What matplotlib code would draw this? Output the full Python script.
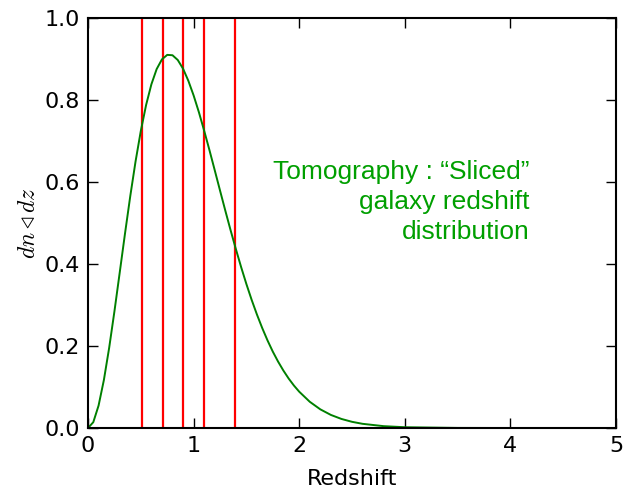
import matplotlib
matplotlib.use("Agg")
import matplotlib.pyplot as plt

# Redshift distribution dn/dz sampled along z
redshift = [0.0, 0.05, 0.1, 0.15, 0.2, 0.25, 0.3, 0.35, 0.4, 0.45,
            0.5, 0.55, 0.6, 0.65, 0.7, 0.75, 0.8, 0.85, 0.9, 0.95,
            1.0, 1.05, 1.1, 1.15, 1.2, 1.25, 1.3, 1.35, 1.4, 1.45,
            1.5, 1.55, 1.6, 1.65, 1.7, 1.75, 1.8, 1.85, 1.9, 1.95,
            2.0, 2.1, 2.2, 2.3, 2.4, 2.5, 2.6, 2.8, 3.0, 3.5, 4.0, 5.0]
dndz = [0.0, 0.0142, 0.0547, 0.1167, 0.1951, 0.2842, 0.3787, 0.4738, 0.5654, 0.6499,
        0.7246, 0.7878, 0.8382, 0.8754, 0.8991, 0.9101, 0.9092, 0.8976, 0.8764, 0.8470,
        0.8112, 0.7703, 0.7251, 0.6778, 0.6288, 0.5794, 0.5304, 0.4826, 0.4366, 0.3925,
        0.3510, 0.3123, 0.2766, 0.2437, 0.2136, 0.1863, 0.1620, 0.1402, 0.1207, 0.1036,
        0.0886, 0.0640, 0.0455, 0.0319, 0.0221, 0.0151, 0.0102, 0.0045, 0.0019, 0.0002, 0.0, 0.0]

# Tomographic bin edges
slice_edges = [0.51, 0.71, 0.9, 1.1, 1.39]

label_text = "Tomography : \u201cSliced\u201d\ngalaxy redshift\ndistribution"

plt.rcParams['mathtext.fontset'] = 'cm'

fig = plt.figure(figsize=(6.26, 4.91), dpi=100)
ax = fig.add_axes([0.1406, 0.1283, 0.8434, 0.835])

for edge in slice_edges:
    ax.axvline(edge, color='red', linewidth=1.6)

ax.plot(redshift, dndz, color='green', linewidth=1.4)

ax.text(4.18, 0.552, label_text, color='#009f00', fontsize=19,
        family='Liberation Sans', ha='right', va='center', linespacing=1.32)

ax.set_xlim(0, 5)
ax.set_ylim(0, 1.0)
ax.set_xticks([0, 1, 2, 3, 4, 5])
ax.set_yticks([0.0, 0.2, 0.4, 0.6, 0.8, 1.0])
ax.set_yticklabels(['0.0', '0.2', '0.4', '0.6', '0.8', '1.0'])
ax.tick_params(direction='in', length=7, width=1, top=True, right=True,
               labelsize=16, pad=6)
for spine in ax.spines.values():
    spine.set_linewidth(1.5)

ax.set_xlabel('Redshift', fontsize=16, labelpad=9)
ax.set_ylabel(r'$dn\triangleleft dz$', fontsize=17, labelpad=3)

fig.savefig('out.png', dpi=100, facecolor='white')
